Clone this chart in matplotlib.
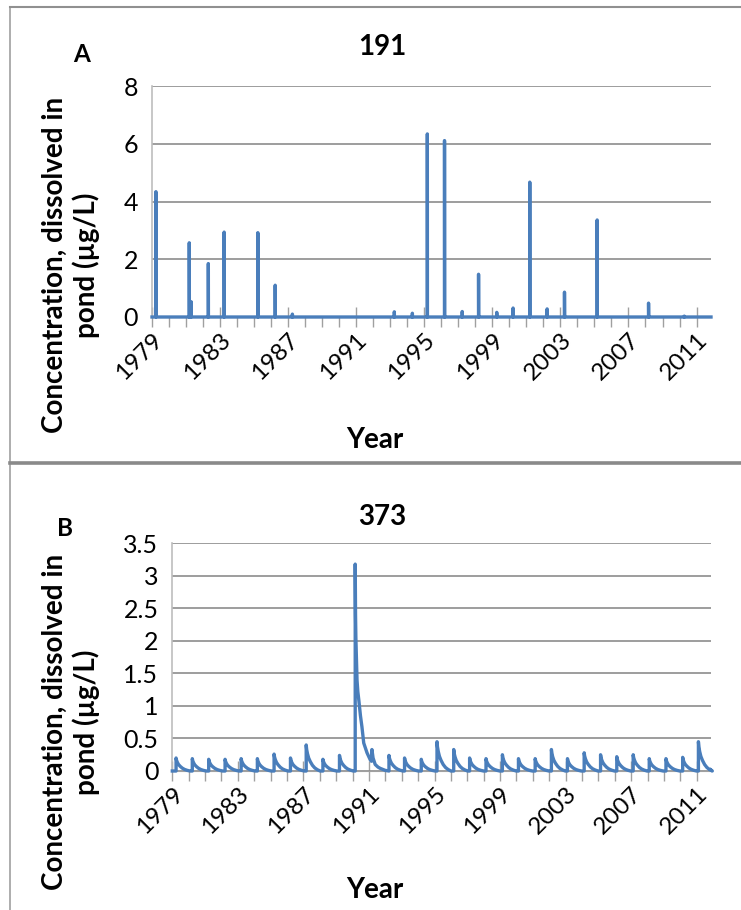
import matplotlib
matplotlib.use('Agg')
import matplotlib.pyplot as plt
from matplotlib.ticker import MultipleLocator
from matplotlib.lines import Line2D

# ---------------- data ----------------
X_START, X_END = 1979.0, 2011.85
year_labels = [1979, 1983, 1987, 1991, 1995, 1999, 2003, 2007, 2011]

# Panel A (site 191): short pulse events
a_years = [1979.23, 1981.19, 1981.30, 1982.31, 1983.24, 1985.22, 1986.24, 1987.25,
           1993.24, 1994.30, 1995.18, 1996.19, 1997.23, 1998.19, 1999.26, 2000.22,
           2001.20, 2002.22, 2003.24, 2005.16, 2008.18, 2010.28]
a_peaks = [4.34, 2.57, 0.53, 1.85, 2.94, 2.92, 1.10, 0.10,
           0.18, 0.13, 6.34, 6.11, 0.19, 1.48, 0.16, 0.31,
           4.67, 0.28, 0.86, 3.36, 0.48, 0.03]
a_yticks = [0, 2, 4, 6, 8]

# Panel B (site 373): annual application peaks with decay
b_years = [1979.23, 1980.22, 1981.22, 1982.22, 1983.20, 1984.19, 1985.21, 1986.21,
           1987.17, 1988.19, 1989.20, 1992.22, 1993.17, 1994.19, 1995.15,
           1996.17, 1997.14, 1998.14, 1999.14, 2000.12, 2001.14, 2002.13, 2003.11,
           2004.13, 2005.13, 2006.12, 2007.12, 2008.10, 2009.12, 2010.14, 2011.10]
b_peaks = [0.20, 0.19, 0.18, 0.18, 0.19, 0.19, 0.26, 0.20,
           0.40, 0.18, 0.24, 0.24, 0.20, 0.18, 0.45,
           0.33, 0.20, 0.19, 0.25, 0.19, 0.19, 0.33, 0.19,
           0.28, 0.25, 0.22, 0.25, 0.19, 0.19, 0.21, 0.45]
# decay shape after a peak
decay_dt = [0.0, 0.03, 0.08, 0.15, 0.25, 0.38, 0.52, 0.68, 0.85]
decay_frac = [1.0, 0.82, 0.66, 0.50, 0.36, 0.22, 0.12, 0.05, 0.0]
# large 1990 event, traced point by point
event_years = [1990.16, 1990.16, 1990.18, 1990.20, 1990.23, 1990.27, 1990.32, 1990.38,
               1990.48, 1990.57, 1990.68, 1990.88, 1991.08, 1991.15, 1991.18, 1991.25,
               1991.38, 1991.55, 1991.69, 1991.99]
event_vals = [0.0, 3.18, 2.40, 2.05, 1.75, 1.40, 1.22, 1.09,
              0.85, 0.68, 0.43, 0.28, 0.17, 0.15, 0.33, 0.20,
              0.10, 0.06, 0.04, 0.01]
b_yticks = [0, 0.5, 1, 1.5, 2, 2.5, 3, 3.5]
b_yticklabels = ['0', '0.5', '1', '1.5', '2', '2.5', '3', '3.5']

# ---------------- build line series ----------------
ax_x, ax_y = [X_START], [0.0]
for t, p in zip(a_years, a_peaks):
    ax_x += [t, t, t + 0.006]
    ax_y += [0.0, p, 0.0]
ax_x.append(X_END); ax_y.append(0.0)

segs = []
for t, p in zip(b_years, b_peaks):
    segs.append(([t] + [t + d for d in decay_dt], [0.0] + [p * f for f in decay_frac]))
segs.append((event_years, event_vals))
segs.sort(key=lambda s: s[0][0])
bx_x, bx_y = [X_START], [0.0]
for xs, ys in segs:
    bx_x += list(xs); bx_y += list(ys)
bx_x.append(X_END); bx_y.append(0.02)

# ---------------- figure ----------------
W, H = 741, 910
fig = plt.figure(figsize=(W / 100, H / 100), dpi=100)
FONT = ['Lato', 'DejaVu Sans']
LINE_C = '#4a7ebb'
GRID_C = '#8c8c8c'

def fx(px): return px / W
def fy(py): return 1 - py / H

# frame lines
fig.add_artist(Line2D([fx(10), fx(10)], [fy(7), 0], color='#a0a0a0', lw=1.2))
fig.add_artist(Line2D([fx(10), 1], [fy(7), fy(7)], color='#909090', lw=1.5))
fig.add_artist(Line2D([fx(10), 1], [fy(463), fy(463)], color='#8a8a8a', lw=2.6))

def style_axes(ax, yticks, yticklabels, ymax):
    ax.set_xlim(X_START, X_END)
    ax.set_ylim(0, ymax)
    ax.set_yticks(yticks)
    ax.set_yticklabels(yticklabels, fontsize=18, family=FONT, color='black')
    ax.set_xticks(year_labels)
    ax.set_xticklabels([str(y) for y in year_labels], rotation=45, ha='right',
                       rotation_mode='anchor', fontsize=17.5, family=FONT, color='black')
    ax.xaxis.set_minor_locator(MultipleLocator(1))
    ax.tick_params(axis='y', length=0, pad=10)
    ax.tick_params(axis='x', which='major', direction='inout', length=14, width=1,
                   color='#a0a0a0', pad=2)
    ax.tick_params(axis='x', which='minor', direction='out', length=7, width=1,
                   color='#a0a0a0')
    for s in ['top', 'right']:
        ax.spines[s].set_visible(False)
    ax.spines['left'].set_color('#bdbdbd')
    ax.spines['bottom'].set_color('#a0a0a0')
    ax.spines['left'].set_linewidth(1.2)
    ax.yaxis.grid(True, color=GRID_C, lw=1.2)
    ax.set_axisbelow(True)

# Panel A
axA = fig.add_axes([fx(152), fy(317), fx(711 - 152), (317 - 86) / H])
axA.plot(ax_x, ax_y, color=LINE_C, lw=2.4, clip_on=False, zorder=3, solid_joinstyle='round')
style_axes(axA, a_yticks, [str(v) for v in a_yticks], 8)

# Panel B
axB = fig.add_axes([fx(172.3), fy(771), fx(710.7 - 172.3), (771 - 543.3) / H])
axB.plot(bx_x, bx_y, color=LINE_C, lw=2.4, clip_on=False, zorder=3, solid_joinstyle='round')
style_axes(axB, b_yticks, b_yticklabels, 3.5)

# texts
ylab = 'Concentration, dissolved in\npond (µg/L)'
for cy, title, tcy, letter, lx, ly, xly in [(265, '191', 47, 'A', 82, 55, 440),
                                             (722, '373', 517, 'B', 65, 528, 890)]:
    fig.text(fx(382), fy(tcy), title, ha='center', va='center', fontsize=20,
             fontweight='bold', family=FONT)
    fig.text(fx(lx), fy(ly), letter, ha='center', va='center', fontsize=17.5,
             fontweight='bold', family=FONT)
    fig.text(fx(71), fy(cy), ylab, rotation=90, ha='center', va='center',
             multialignment='center', fontsize=20, fontweight='bold', family=FONT,
             linespacing=1.2)
    fig.text(fx(375), fy(xly), 'Year', ha='center', va='center', fontsize=20,
             fontweight='bold', family=FONT)

fig.savefig('out.png', dpi=100)
